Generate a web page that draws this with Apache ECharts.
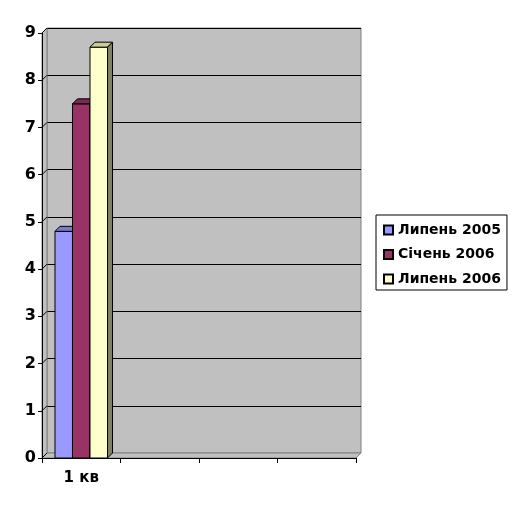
<!DOCTYPE html>
<html><head><meta charset="utf-8">
<script src="https://cdn.jsdelivr.net/npm/echarts@6/dist/echarts.min.js"></script>
<style>html,body{margin:0;padding:0;background:#fff}#c{width:518px;height:507px}</style>
</head><body><div id="c"></div>
<script>
const categories = ['1 кв', '', '', ''];
const seriesNames = ['Липень 2005', 'Січень 2006', 'Липень 2006'];
const jul2005 = [4.8, null, null, null];
const jan2006 = [7.5, null, null, null];
const jul2006 = [8.7, null, null, null];
const yTicks = [0, 1, 2, 3, 4, 5, 6, 7, 8, 9];

const colors = ['#9999ff', '#993366', '#ffffcc'];
const topColors = ['#7a7acc', '#7a2952', '#cccc99'];
const sideColors = ['#4d4d80', '#4d1a33', '#808066'];
const D = 5;
const FONT = 'DejaVu Sans';

function barRender(i) {
  return function (params, api) {
    const v = api.value(1);
    if (v == null || isNaN(v)) return null;
    const x = api.value(0);
    const base = api.coord([x, 0]);
    const top = api.coord([x, v]);
    const band = api.size([1, 0])[0];
    const bw = band * 0.223;
    const left = base[0] - 1.5 * bw + i * bw;
    const ty = top[1], by = base[1];
    const st = {stroke: '#000', lineWidth: 1};
    return {
      type: 'group',
      children: [
        {type: 'rect', shape: {x: left, y: ty, width: bw, height: by - ty},
          style: Object.assign({fill: colors[i]}, st)},
        {type: 'polygon', shape: {points: [[left, ty], [left + D, ty - D], [left + bw + D, ty - D], [left + bw, ty]]},
          style: Object.assign({fill: topColors[i]}, st)},
        {type: 'polygon', shape: {points: [[left + bw, ty], [left + bw + D, ty - D], [left + bw + D, by - D], [left + bw, by]]},
          style: Object.assign({fill: sideColors[i]}, st)}
      ]
    };
  };
}

function wallRender(params, api) {
  const cs = params.coordSys;
  const x0 = cs.x, y0 = cs.y, w = cs.width, h = cs.height;
  const children = [
    {type: 'polygon', shape: {points: [[x0, y0], [x0 + D, y0 - D], [x0 + D, y0 + h - D], [x0, y0 + h]]},
      style: {fill: '#c0c0c0', stroke: '#808080', lineWidth: 1}},
    {type: 'polygon', shape: {points: [[x0, y0 + h], [x0 + D, y0 + h - D], [x0 + w + D, y0 + h - D], [x0 + w, y0 + h]]},
      style: {fill: '#c0c0c0', stroke: '#808080', lineWidth: 1}}
  ];
  yTicks.forEach(function (t) {
    const p = api.coord([0, t]);
    children.push({type: 'line', shape: {x1: x0, y1: p[1], x2: x0 + D, y2: p[1] - D},
      style: {stroke: '#000', lineWidth: 1}});
  });
  return {type: 'group', children: children};
}

const dataArrays = [jul2005, jan2006, jul2006];
const series = [
  {type: 'custom', xAxisIndex: 0, yAxisIndex: 0, renderItem: wallRender, data: [[0, 0]], z: 1, silent: true, tooltip: {show: false}}
];
dataArrays.forEach(function (arr, i) {
  series.push({
    type: 'custom', name: seriesNames[i], xAxisIndex: 0, yAxisIndex: 0, z: 5 + i,
    renderItem: barRender(i),
    itemStyle: {color: colors[i], borderColor: '#000', borderWidth: 1},
    data: arr.map(function (v, k) { return [k, v]; })
  });
});

const chart = echarts.init(document.getElementById('c'), null, {renderer: 'canvas'});
chart.setOption({
  backgroundColor: '#ffffff',
  animation: false,
  grid: [
    {left: 42, top: 33, width: 314, height: 425, show: false},
    {left: 47, top: 28, width: 314, height: 425, show: true, backgroundColor: '#c0c0c0', borderColor: '#808080', borderWidth: 1}
  ],
  xAxis: [
    {type: 'category', gridIndex: 0, data: categories,
      axisLine: {show: true, lineStyle: {color: '#000', width: 1}},
      axisTick: {show: true, alignWithLabel: false, length: 5, lineStyle: {color: '#000'}},
      axisLabel: {color: '#000', fontFamily: FONT, fontWeight: 'bold', fontSize: 15, margin: 13},
      z: 10},
    {type: 'value', gridIndex: 1, show: false, min: 0, max: 1}
  ],
  yAxis: [
    {type: 'value', gridIndex: 0, min: 0, max: 9, interval: 1,
      axisLine: {show: true, lineStyle: {color: '#000', width: 1}},
      axisTick: {show: true, length: 4, lineStyle: {color: '#000'}},
      axisLabel: {color: '#000', fontFamily: FONT, fontWeight: 'bold', fontSize: 16, margin: 6},
      splitLine: {show: false}, z: 10},
    {type: 'value', gridIndex: 1, min: 0, max: 9, interval: 1,
      axisLine: {show: false}, axisTick: {show: false}, axisLabel: {show: false},
      splitLine: {show: true, lineStyle: {color: '#000', width: 1}}}
  ],
  legend: {
    orient: 'vertical', left: 376, top: 215,
    data: seriesNames,
    icon: 'rect', itemWidth: 9, itemHeight: 9, itemGap: 10.5,
    padding: [8, 6, 4, 7],
    borderColor: '#000', borderWidth: 1, backgroundColor: '#fff',
    textStyle: {color: '#000', fontFamily: FONT, fontWeight: 'bold', fontSize: 14}
  },
  series: series
});
</script>
</body></html>
